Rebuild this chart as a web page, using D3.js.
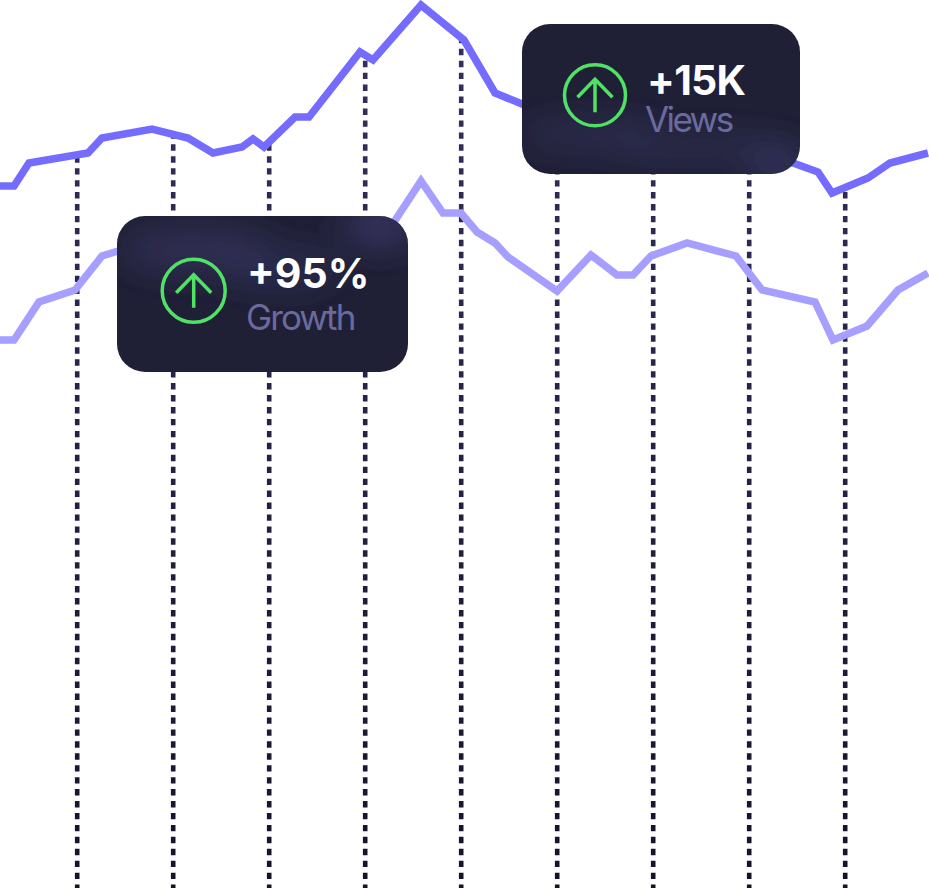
<!DOCTYPE html>
<html>
<head>
<meta charset="utf-8">
<style>
html,body{margin:0;padding:0;background:#fff;}
svg{display:block;}
text{font-family:Inter,"Noto Sans",sans-serif;}
</style>
<script src="https://cdnjs.cloudflare.com/ajax/libs/d3/7.8.5/d3.min.js"></script>
</head>
<body>
<svg id="chart" width="929" height="888"></svg>
<script>
// Horizontal position of each reading, and its value (height above the chart floor)
const viewsX = [0,14,29,88,102,152,188,213,242,253,264,295,309,360,373,421,464,495,522,557,600,653,700,749,793,818,832,868,890,928];
const viewsY = [702,702,725,735,750,759,750,735,741,749,741,771,771,836,828,883,848,795,784,768,750,742,735,730,725,716,695,710,725,735];
const growthX = [0,14,39,75,102,118,152,188,213,242,264,295,340,375,421,443,461,477,495,508,557,591,617,633,651,687,736,762,815,833,867,898,928];
const growthY = [548,548,586,598,632,637,645,637,625,630,622,640,645,637,707,675,675,656,645,631,597,633,613,613,632,645,632,598,586,548,562,598,615];
const periodTicks = [77,173,269,365,461,557,653,749,845];

const calloutValues = ["+95%","+15K"];
const calloutLabels = ["Growth","Views"];

const W = 929, H = 888;
const svg = d3.select("#chart");
const x = d3.scaleLinear().domain([0,W]).range([0,W]);
const y = d3.scaleLinear().domain([0,H]).range([H,0]);

const toPts = (xs,ys)=>xs.map((d,i)=>[d,ys[i]]);
const viewsPts = toPts(viewsX,viewsY);
const growthPts = toPts(growthX,growthY);
const valueAt = (pts,t)=>{
  const i = Math.max(1,d3.bisectLeft(pts.map(p=>p[0]),t));
  const a=pts[i-1], b=pts[i];
  return d3.interpolateNumber(a[1],b[1])((t-a[0])/(b[0]-a[0]));
};

const defs = svg.append("defs");
const dropGrad = defs.append("linearGradient").attr("id","dropGrad")
  .attr("gradientUnits","userSpaceOnUse").attr("x1",0).attr("x2",0).attr("y1",0).attr("y2",H);
dropGrad.append("stop").attr("offset","0").attr("stop-color","#37305f");
dropGrad.append("stop").attr("offset","1").attr("stop-color","#14132a");
defs.append("filter").attr("id","soft").attr("x","-60%").attr("y","-200%").attr("width","220%").attr("height","500%")
  .append("feGaussianBlur").attr("stdDeviation",17);

// dotted drop lines
svg.append("g").selectAll("line").data(periodTicks).join("line")
  .attr("x1",d=>x(d)+0.2).attr("x2",d=>x(d)+0.2)
  .attr("y1",y(0)).attr("y2",d=>y(valueAt(viewsPts,d)))
  .attr("stroke","url(#dropGrad)").attr("stroke-width",4.6)
  .attr("stroke-dasharray","6.4 5.54").attr("stroke-dashoffset",3);

// series lines
const line = d3.line().x(d=>x(d[0])).y(d=>y(d[1]));
svg.append("path").datum(viewsPts).attr("d",line).attr("fill","none")
  .attr("stroke","#746bff").attr("stroke-width",7.5).attr("stroke-linejoin","miter");
svg.append("path").datum(growthPts).attr("d",line).attr("fill","none")
  .attr("stroke","#a69fff").attr("stroke-width",7.5).attr("stroke-linejoin","miter");

// callout cards
const cards = [
  {id:"c1",x:117,y:216,w:291,h:156,value:calloutValues[0],label:calloutLabels[0],
   vx:247,vy:288,vs:41,vsp:0,lx:246,ly:330,ls:35,lsp:-1.9,
   cx:193.7,cy:290.7,r:31.5,
   glows:[[195,250,75,22,.6],[280,268,60,18,.5],[380,226,36,20,.9]]},
  {id:"c2",x:522,y:24,w:278,h:150,value:calloutValues[1],label:calloutLabels[1],
   vx:647,vy:95,vs:41,vsp:-0.7,lx:645,ly:132,ls:35,lsp:-2.6,
   cx:595,cy:95.3,r:30.5,
   glows:[[590,134,70,12,.6],[700,148,90,11,.55],[778,164,30,16,.85]]}
];
cards.forEach(c=>{
  defs.append("clipPath").attr("id",c.id)
    .append("rect").attr("x",c.x).attr("y",c.y).attr("width",c.w).attr("height",c.h).attr("rx",28);
  const g = svg.append("g");
  g.append("rect").attr("x",c.x).attr("y",c.y).attr("width",c.w).attr("height",c.h).attr("rx",28).attr("fill","#1f2036");
  g.append("g").attr("clip-path",`url(#${c.id})`).append("g").attr("filter","url(#soft)")
    .selectAll("ellipse").data(c.glows).join("ellipse")
    .attr("cx",d=>d[0]).attr("cy",d=>d[1]).attr("rx",d=>d[2]).attr("ry",d=>d[3])
    .attr("fill","#3a3868").attr("opacity",d=>d[4]);
  g.append("circle").attr("cx",c.cx).attr("cy",c.cy).attr("r",c.r)
    .attr("fill","none").attr("stroke","#50e264").attr("stroke-width",3.5);
  g.append("path")
    .attr("d",`M${c.cx},${c.cy+17}V${c.cy-16.5}M${c.cx-17.5},${c.cy+2}L${c.cx},${c.cy-16}L${c.cx+17.5},${c.cy+2}`)
    .attr("fill","none").attr("stroke","#50e264").attr("stroke-width",3.5);
  g.append("text").attr("x",c.vx).attr("y",c.vy).attr("font-size",c.vs).attr("font-weight",700)
    .attr("letter-spacing",c.vsp).attr("fill","#fff").text(c.value);
  g.append("text").attr("x",c.lx).attr("y",c.ly).attr("font-size",c.ls).attr("font-weight",400)
    .attr("letter-spacing",c.lsp).attr("fill","#6b6a9e").text(c.label);
});
</script>
</body>
</html>
